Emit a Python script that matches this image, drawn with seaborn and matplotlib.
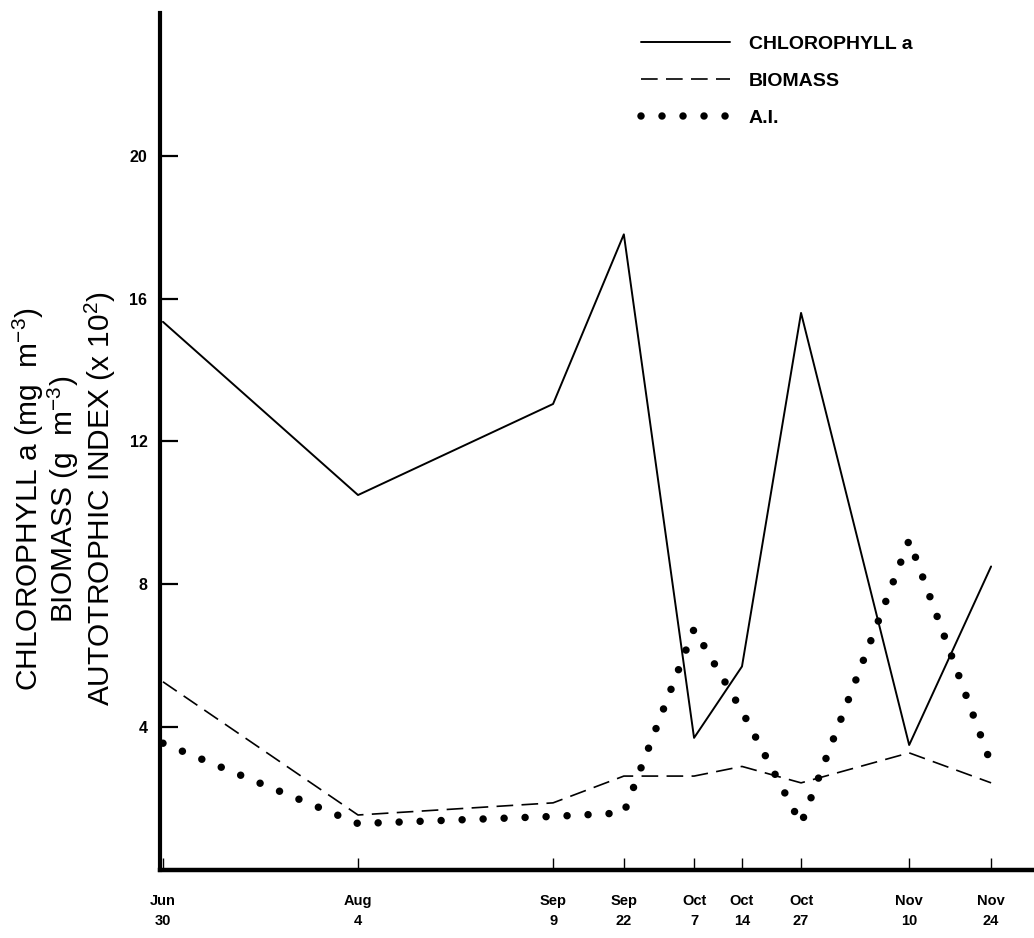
import pandas as pd
import matplotlib
matplotlib.use("Agg")
import matplotlib.pyplot as plt
import seaborn as sns

#===============================================================
#        CHLOROPHYLL a, BIOMASS AND AUTOTROPHIC INDEX
#===============================================================

# Sampling dates and their positions along the drawn time axis
date_labels = ["Jun\n30", "Aug\n4", "Sep\n9", "Sep\n22", "Oct\n7",
               "Oct\n14", "Oct\n27", "Nov\n10", "Nov\n24"]
date_pos = [0, 35, 70, 82.7, 95.3, 103.9, 114.5, 133.9, 148.6]

# Series values
chlorophyll = [15.35, 10.5, 13.05, 17.8, 3.7, 5.7, 15.6, 3.5, 8.5]
biomass = [5.27, 1.54, 1.88, 2.63, 2.63, 2.9, 2.44, 3.28, 2.44]
auto_index = [3.55, 1.3, 1.5, 1.6, 6.75, 4.45, 1.29, 9.24, 2.97]

y_ticks = [4, 8, 12, 16, 20]

df = pd.DataFrame({
    "pos": date_pos,
    "chl": chlorophyll,
    "bio": biomass,
    "ai": auto_index,
})

# Style (set fonts and colours after seaborn style)
sns.set_style("ticks")
plt.rcParams["font.family"] = ["Liberation Sans", "DejaVu Sans"]
plt.rcParams["mathtext.fontset"] = "custom"
plt.rcParams["mathtext.rm"] = "Liberation Sans"
plt.rcParams["mathtext.it"] = "Liberation Sans:italic"
plt.rcParams["mathtext.bf"] = "Liberation Sans:bold"
for key in ["text.color", "axes.edgecolor", "axes.labelcolor",
            "xtick.color", "ytick.color"]:
    plt.rcParams[key] = "black"

fig = plt.figure(figsize=(10.34, 9.38), dpi=100)
ax = fig.add_axes([0.1547, 0.0725, 0.8453, 0.9137])

sns.lineplot(data=df, x="pos", y="chl", ax=ax, color="black",
             linewidth=1.4, estimator=None, label="CHLOROPHYLL a")
sns.lineplot(data=df, x="pos", y="bio", ax=ax, color="black",
             linewidth=1.2, linestyle=(0, (10, 5)), estimator=None,
             label="BIOMASS")
sns.lineplot(data=df, x="pos", y="ai", ax=ax, color="black",
             linewidth=5.4, linestyle=(0, (0.001, 2.8)),
             dash_capstyle="round", estimator=None, label="A.I.")

# Axes limits and ticks
ax.set_xlim(-0.54, 156.3)
ax.set_ylim(0, 24.0)
ax.set_xticks(date_pos)
ax.set_xticklabels(date_labels, fontsize=10.5, fontweight="bold",
                   linespacing=1.55)
ax.set_yticks(y_ticks)
ax.set_yticklabels([str(t) for t in y_ticks], fontsize=11.5,
                   fontweight="bold")
ax.set_xlabel("")
ax.set_ylabel("")

ax.tick_params(axis="y", direction="in", length=13, width=1.6, pad=9)
ax.tick_params(axis="x", direction="in", length=9, width=1.0, pad=17)

# Spines
ax.spines["top"].set_visible(False)
ax.spines["right"].set_visible(False)
ax.spines["left"].set_linewidth(3)
ax.spines["bottom"].set_linewidth(3.2)

# Legend at the top right
ax.legend(
    loc="upper left",
    bbox_to_anchor=(0.603, 0.981),
    bbox_transform=fig.transFigure,
    frameon=False,
    handlelength=4.6,
    handletextpad=0.95,
    labelspacing=1.0,
    prop={"weight": "bold", "size": 14},
)

# Stacked y-axis label
ylabel_lines = [
    (0.027, "CHLOROPHYLL a (mg  m$^{-3}$)"),
    (0.061, "BIOMASS (g  m$^{-3}$)"),
    (0.097, "AUTOTROPHIC INDEX (x 10$^{2}$)"),
]
for x, txt in ylabel_lines:
    fig.text(x, 0.468, txt, rotation=90, ha="center", va="center",
             fontsize=21.5)

fig.savefig("out.png", dpi=100)
